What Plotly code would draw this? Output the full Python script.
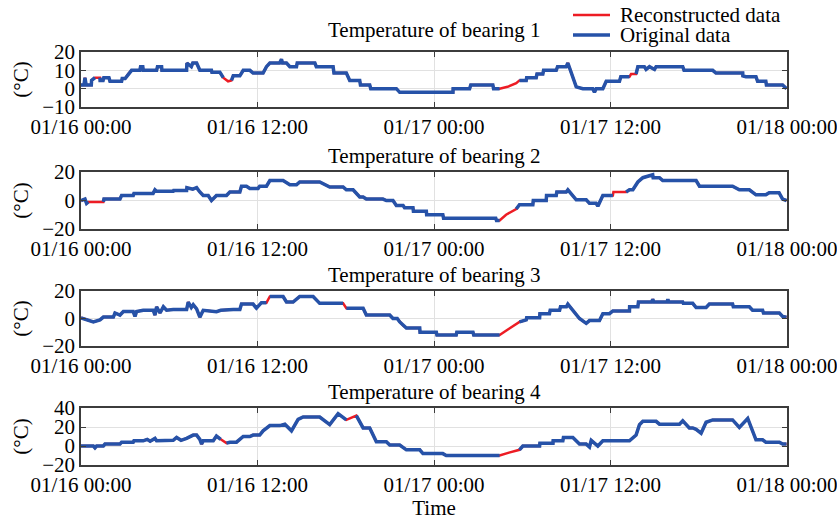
import pandas as pd
import plotly.graph_objects as go

# ---------------- data (hours since 01/16 00:00, °C) ----------------
b1_h = [0, 0.2, 0.27, 0.35, 0.7, 0.72, 0.95, 1.29, 1.3, 1.5, 1.55, 1.9, 1.97, 2.76, 2.8, 3.0, 3.21, 3.44, 4.0, 4.05,
        4.2, 4.23, 5.14, 5.2, 5.48, 5.5, 7.18, 7.2, 7.5, 7.6, 7.86, 8.08, 8.87, 8.9, 9.44, 9.67, 10.0, 10.23, 10.35, 10.8,
        11.03, 11.48, 11.7, 12.38, 12.61, 12.84, 13.5, 13.63, 13.7, 13.97, 14.2, 14.65, 14.7, 15.9, 16.0, 17.14, 17.2, 18.04, 18.27, 18.95,
        19.0, 19.63, 19.7, 21.44, 21.67, 25.29, 25.3, 26.42, 26.5, 28.0, 28.05, 28.46, 29.0, 29.59, 29.81, 30.27, 30.3, 30.95, 31.0, 31.4,
        31.45, 32.31, 32.4, 32.99, 33.1, 33.67, 34.12, 34.79, 34.91, 35.02, 35.48, 35.71, 36.61, 36.7, 37.29, 37.4, 37.74, 37.86, 38.3, 38.42,
        38.65, 38.99, 39.1, 40.91, 41.0, 42.95, 43.17, 44.99, 45.0, 45.21, 45.89, 46.0, 46.56, 46.6, 47.7, 47.97]
b1_v = [2, 2, 6, 2, 2, 4.5, 6, 6, 4.5, 4.5, 6, 6, 4, 4, 5.5, 5.5, 8, 10, 10, 12,
        12, 10, 10, 12, 12, 10, 10, 14, 12, 14, 14, 10, 10, 9, 9, 6, 4, 4.5, 7, 7,
        10, 10, 8.5, 8.5, 12, 14, 14, 16, 14, 14, 12, 12, 14, 14, 12, 12, 8.5, 8.5, 4.5, 4.5,
        2, 2, 0, 0, -2, -2, 0, 0, 2, 2, 0, 0, 1, 3, 4.5, 4.5, 6, 6, 8, 8,
        10, 10, 12, 12, 14, 1, 0, 0, -2, 0, 0, 4, 4, 6.5, 6.5, 8, 8, 12, 12, 10.5,
        12, 10.5, 12, 12, 10, 10, 8.5, 8.5, 7, 6.5, 6.5, 4, 4, 2, 2, 0]

b2_h = [0, 0.27, 0.38, 0.5, 1.52, 1.56, 2.65, 2.76, 3.55, 3.6, 4.23, 4.9, 5.03, 5.14, 6.27, 6.3, 7.18, 7.2, 7.6, 7.86,
        8.08, 8.31, 8.65, 8.87, 9.21, 9.89, 10.12, 10.8, 10.91, 11.25, 11.48, 12.04, 12.15, 12.61, 12.84, 13.74, 14.2, 14.65, 14.87, 16.23,
        16.91, 17.82, 18.04, 18.5, 18.95, 19.18, 19.4, 20.53, 20.76, 21.21, 21.44, 21.9, 22.0, 22.57, 22.6, 23.48, 23.5, 24.6, 24.65, 28.2,
        28.25, 28.46, 28.9, 29.3, 29.59, 29.81, 30.72, 30.75, 31.63, 31.65, 32.31, 32.35, 32.99, 33.1, 33.67, 34.35, 34.57, 35.02, 35.14, 35.48,
        36.16, 36.2, 37.06, 37.29, 37.52, 37.86, 38.2, 38.87, 38.9, 39.33, 39.55, 41.82, 42.05, 44.3, 44.76, 45.44, 45.89, 46.56, 46.79, 47.46,
        47.7, 47.97]
b2_v = [0, 1, -2, -1, -1, 1, 1, 3.5, 3.5, 5, 5, 5, 7.5, 6.5, 6.5, 7, 7, 9, 8, 9,
        6, 3.5, 3.5, 0, 3.5, 3.5, 6, 6, 10, 10, 8.5, 8.5, 10, 10, 14, 14, 11, 11, 13, 13,
        9.5, 9.5, 7.5, 7.5, 2.5, 2.5, 1, 1, 0, 0, -3.5, -3.5, -5, -5, -7.5, -7.5, -10, -10, -12.5, -12.5,
        -14, -14, -10, -8, -6, -3, -3, 0, 0, 3.5, 3.5, 6, 6, 7.5, 0.5, 0.5, -2, -2, -4, 3.5,
        3.5, 6, 6, 7.5, 7.5, 13, 16, 18, 16, 16, 14, 14, 10, 10, 7.5, 7.5, 4, 4, 5.5, 5.5,
        1, 0]

b3_h = [0, 0.38, 0.84, 1.29, 1.52, 2.2, 2.31, 2.65, 2.88, 3.55, 3.67, 3.78, 4.23, 4.91, 5.03, 5.14, 5.37, 5.6, 5.82, 6.27,
        7.18, 7.29, 7.5, 7.63, 7.86, 8.08, 8.31, 9.21, 9.5, 10.35, 10.8, 10.91, 11.7, 11.93, 12.27, 12.61, 12.84, 13.74, 13.97, 14.42,
        14.87, 15.78, 16.23, 17.82, 18.04, 19.18, 19.4, 20.99, 21.21, 21.5, 21.67, 21.89, 22.12, 23.03, 23.05, 24.16, 24.2, 25.51, 25.55, 26.65,
        26.7, 28.46, 29.1, 29.81, 30.27, 30.3, 31.18, 31.2, 31.85, 31.9, 32.54, 32.6, 33.0, 33.1, 33.89, 34.35, 34.57, 35.25, 35.48, 35.93,
        36.16, 37.29, 37.3, 37.86, 37.9, 38.8, 38.87, 38.95, 39.85, 39.9, 39.95, 40.91, 40.95, 41.59, 41.82, 42.5, 42.72, 44.3, 44.35, 45.44,
        45.66, 46.34, 46.4, 47.48, 47.7, 47.97]
b3_v = [0.5, -1, -2.5, -1, 1, 1, 4, 2.5, 5, 5, 1.5, 5, 6, 6, 2.5, 8.5, 4, 8.5, 6, 6.5,
        6.5, 12, 8, 10, 7, 1, 6, 5, 6, 6.5, 6.5, 10.5, 10.5, 7.5, 11.5, 11.5, 16, 16, 12, 12,
        16, 16, 11, 11, 7.5, 7.5, 2.5, 2.5, 0, 0, -2.5, -5, -7, -7, -10, -10, -12, -12, -10, -10,
        -12, -12, -7.5, -2.5, -1, 0.5, 0.5, 3.5, 3.5, 6, 6, 8.5, 8.5, 10.5, 0, -3.5, -1.5, -1.5, 3.5, 3.5,
        5.5, 5.5, 8.5, 8.5, 12, 12, 14, 12, 12, 14, 12, 12, 11, 11, 8, 8, 10.5, 10.5, 8.5, 8.5,
        6, 6, 4, 4, 1.5, 1]

b4_h = [0, 0.84, 0.95, 1.06, 1.52, 1.63, 2.65, 2.76, 3.55, 3.6, 4.23, 4.5, 4.7, 5.03, 5.14, 6.27, 6.5, 6.8, 7.18, 7.5,
        7.63, 7.86, 8.08, 8.2, 8.31, 8.99, 9.21, 9.5, 9.89, 10.12, 10.57, 11.03, 11.48, 11.7, 12.15, 12.38, 12.84, 13.52, 13.86, 14.31,
        14.76, 15.1, 16.23, 16.91, 17.48, 18.04, 18.72, 19.18, 19.63, 20.08, 20.76, 20.99, 21.67, 22.12, 23.03, 23.25, 24.6, 24.83, 28.46, 29.1,
        29.81, 30.04, 31.18, 31.2, 32.09, 32.1, 32.76, 32.8, 33.44, 33.89, 34.35, 34.57, 34.69, 35.14, 35.48, 37.29, 37.74, 37.97, 38.2, 39.1,
        39.33, 40.69, 40.91, 41.36, 41.59, 41.82, 42.16, 42.5, 42.95, 44.3, 44.76, 45.33, 45.89, 46.34, 46.56, 47.48, 47.7, 47.97]
b4_v = [0, 0, -2, 0, 0, 2, 2, 4, 4, 5.5, 5.5, 7, 5, 8, 5.5, 6, 9, 6, 8, 10,
        11.5, 11.5, 7, 2, 5.5, 5.5, 10.5, 7, 3, 4, 4, 10, 10, 11.5, 11.5, 16, 21.5, 21.5, 23, 16,
        28, 30.5, 30.5, 22.5, 34, 27.5, 32, 19, 19, 4.5, 4.5, 1, 1, -4, -4, -8, -8, -10, -10, -7,
        -4, 0, 0, 3, 3, 5.5, 5.5, 9, 9, 2, 2, -1, 6, 0, 5.5, 5.5, 11.5, 22.5, 26, 26,
        23, 23, 26.5, 19, 19, 17.5, 13.5, 25, 27.5, 27.5, 19.5, 29, 6.5, 6.5, 4, 4, 2, 2]

# intervals (hours) where only reconstructed data exist
b1_gaps = [(28.46, 29.81), (9.67, 10.23), (37.29, 37.74), (0.95, 1.29)]
b2_gaps = [(28.46, 29.59), (0.5, 1.52), (36.16, 37.06)]
b3_gaps = [(28.46, 29.81), (12.61, 12.84), (17.82, 18.04)]
b4_gaps = [(28.46, 29.81), (18.04, 18.72), (9.5, 9.89), (28.2, 28.46)]

titles = ["Temperature of bearing 1", "Temperature of bearing 2",
          "Temperature of bearing 3", "Temperature of bearing 4"]
legend_names = ["Reconstructed data", "Original data"]
y_ticks = [[-10, 0, 10, 20], [-20, 0, 20], [-20, 0, 20], [-20, 0, 20, 40]]
y_ranges = [[-10, 20], [-20, 20], [-20, 20], [-20, 40]]
tick_hours = [0, 12, 24, 36, 48]
start = pd.Timestamp("2018-01-16 00:00")

RED = "rgb(237,28,36)"
BLUE = "rgb(38,82,168)"
FONT = "Liberation Serif"
FS = 21

def to_time(hours):
    return [start + pd.Timedelta(hours=h) for h in hours]

def original(hours, vals, gaps):
    xs, ys = [], []
    for i in range(len(hours)):
        if i > 0:
            mid = 0.5 * (hours[i - 1] + hours[i])
            if any(a <= mid <= b for a, b in gaps):
                xs.append(None)
                ys.append(None)
        xs.append(start + pd.Timedelta(hours=hours[i]))
        ys.append(vals[i])
    return xs, ys

series = [(b1_h, b1_v, b1_gaps), (b2_h, b2_v, b2_gaps), (b3_h, b3_v, b3_gaps), (b4_h, b4_v, b4_gaps)]

W, H = 837, 520
x_dom = [81 / W, 787 / W]
plot_px = [(52, 107), (172, 229), (291, 346), (408, 465)]
title_px = [30, 156, 275, 392]

fig = go.Figure()
layout = dict(
    width=W, height=H, margin=dict(l=0, r=0, t=0, b=0, autoexpand=False),
    paper_bgcolor="white", plot_bgcolor="white",
    font=dict(family=FONT, size=FS, color="black"),
    showlegend=False,
)
tickvals = [start + pd.Timedelta(hours=h) for h in tick_hours]
ticktext = [t.strftime("%m/%d %H:%M") for t in tickvals]

annotations = []
shapes = []
for k, (hrs, vals, gaps) in enumerate(series):
    xa = "x" if k == 0 else f"x{k+1}"
    ya = "y" if k == 0 else f"y{k+1}"
    fig.add_trace(go.Scatter(x=to_time(hrs), y=vals, mode="lines", xaxis=xa, yaxis=ya,
                             line=dict(color=RED, width=2.5), name=legend_names[0],
                             hoverinfo="skip"))
    bx, by = original(hrs, vals, gaps)
    fig.add_trace(go.Scatter(x=bx, y=by, mode="lines", xaxis=xa, yaxis=ya,
                             line=dict(color=BLUE, width=3.5), name=legend_names[1],
                             connectgaps=False, hoverinfo="skip"))
    top, bot = plot_px[k]
    common = dict(showline=True, linecolor="rgb(60,60,60)", linewidth=1.5, mirror="allticks",
                  ticks="inside", ticklen=5, tickwidth=1.2, tickcolor="rgb(60,60,60)",
                  showgrid=True, gridcolor="rgb(225,225,225)", gridwidth=1, zeroline=False,
                  automargin=False, ticklabeloverflow="allow",
                  tickfont=dict(family=FONT, size=FS, color="black"))
    layout["xaxis" if k == 0 else f"xaxis{k+1}"] = dict(
        domain=x_dom, anchor=ya, type="date",
        range=[tickvals[0], tickvals[-1]], tickvals=tickvals, ticktext=ticktext,
        title=dict(text="Time", standoff=0, font=dict(family=FONT, size=FS)) if k == 3 else None,
        **common)
    layout["yaxis" if k == 0 else f"yaxis{k+1}"] = dict(
        domain=[1 - bot / H, 1 - top / H], anchor=xa, range=y_ranges[k], tickvals=y_ticks[k],
        title=dict(text="(°C)", standoff=8, font=dict(family=FONT, size=FS)),
        **common)
    annotations.append(dict(text=titles[k], x=0.5 * (x_dom[0] + x_dom[1]), y=1 - title_px[k] / H,
                            xref="paper", yref="paper", xanchor="center", yanchor="middle",
                            showarrow=False, font=dict(family=FONT, size=FS, color="black")))

# manual legend (top right)
for i, (name, col, wdt) in enumerate([(legend_names[0], RED, 2.5), (legend_names[1], BLUE, 3.5)]):
    yl = 1 - (15 + 20 * i) / H
    shapes.append(dict(type="line", xref="paper", yref="paper", x0=573 / W, x1=610 / W, y0=yl, y1=yl,
                       line=dict(color=col, width=wdt)))
    annotations.append(dict(text=name, x=618 / W, y=yl, xref="paper", yref="paper",
                            xanchor="left", yanchor="middle", showarrow=False,
                            font=dict(family=FONT, size=FS, color="black")))

layout["annotations"] = annotations
layout["shapes"] = shapes
fig.update_layout(**layout)
fig.write_html("out.html")
